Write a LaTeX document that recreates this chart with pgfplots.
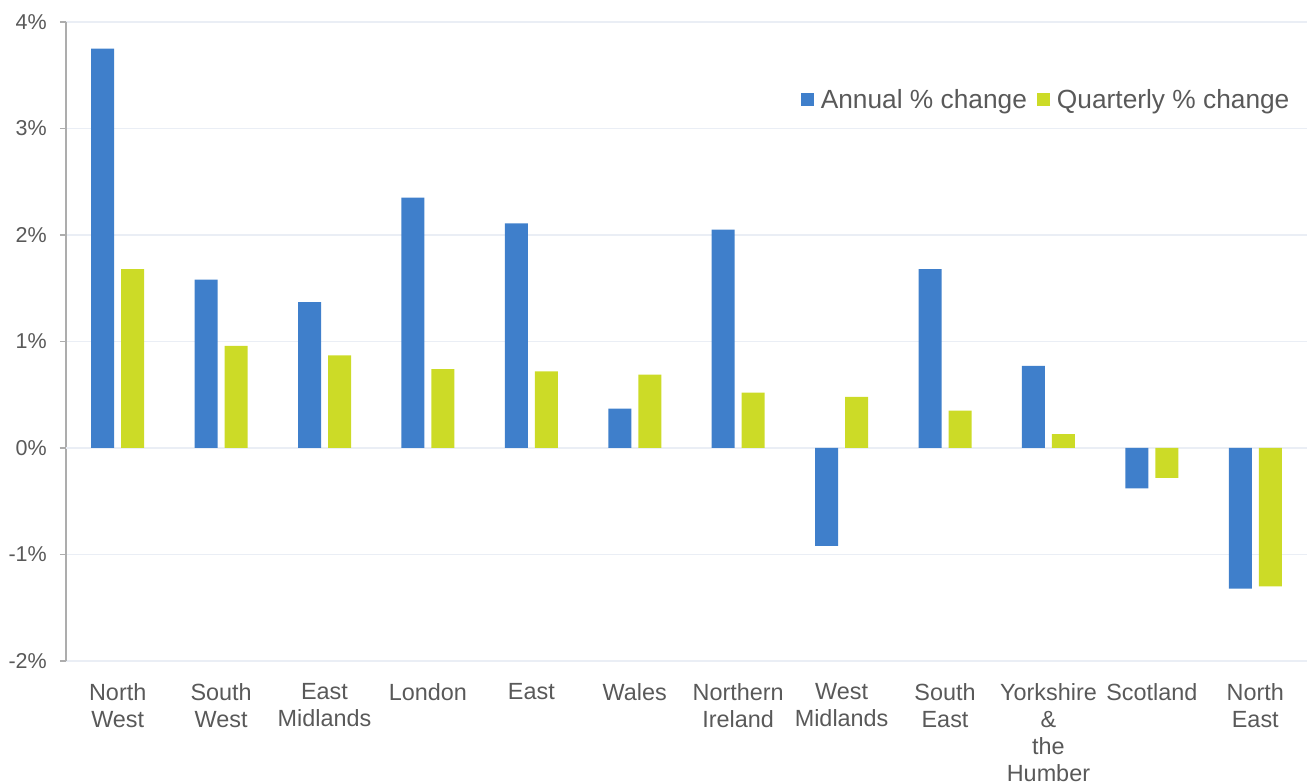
\documentclass[border=0pt]{standalone}
\usepackage{fontspec}
\setmainfont{Liberation Sans}
\usepackage{pgfplots}
\pgfplotsset{compat=1.18}
\definecolor{annual}{HTML}{3F7FCB}
\definecolor{quarterly}{HTML}{CCDB27}
\definecolor{txt}{HTML}{595959}
\definecolor{gridc}{HTML}{EAEEF5}
\definecolor{axisc}{HTML}{ADADAD}
\definecolor{zeroc}{HTML}{D9D9D9}

\begin{document}
\begin{tikzpicture}
\begin{axis}[
    scale only axis,
    width=1241pt, height=639pt,
    xmin=-0.5, xmax=11.5,
    ymin=-2, ymax=4,
    ybar=7pt, bar width=23pt,
    axis lines*=left,
    axis line style={-},
    x axis line style={draw=none},
    y axis line style={axisc, line width=1.5pt},
    xtick={0,...,11},
    xticklabels={{North\\West},{South\\West},{East\\Midlands},London,East,Wales,{Northern\\Ireland},{West\\Midlands},{South\\East},{Yorkshire\\\&\\the\\Humber},Scotland,{North\\East}},
    x tick style={draw=none},
    xticklabel style={font=\fontsize{23.4}{27}\selectfont, text=txt, align=center, anchor=north, inner sep=0pt, yshift=-16pt},
    ytick={-2,-1,0,1,2,3,4},
    yticklabels={-2\%,-1\%,0\%,1\%,2\%,3\%,4\%},
    yticklabel style={font=\fontsize{21.5}{25}\selectfont, text=txt, inner sep=0pt, xshift=-13pt},
    y tick style={axisc, line width=1.5pt},
    tick align=outside,
    major tick length=6pt,
    ymajorgrids=true,
    major grid style={gridc, line width=1.2pt},
    extra y ticks={0},
    extra y tick labels={},
    extra y tick style={grid style={zeroc, line width=2pt}},
    legend columns=2,
    legend style={draw=none, fill=none, at={(0.986,0.878)}, anchor=east,
        font=\fontsize{26.3}{30}\selectfont, text=txt, inner sep=0pt,
        nodes={inner sep=0pt},
        /tikz/every odd column/.append style={column sep=7pt},
        /tikz/every even column/.append style={column sep=10pt}},
    legend image code/.code={\fill[#1] (0pt,-6.5pt) rectangle (13pt,6.5pt);},
]
\addplot[fill=annual, draw=none] coordinates {
    (0,3.75) (1,1.58) (2,1.37) (3,2.35) (4,2.11) (5,0.37)
    (6,2.05) (7,-0.92) (8,1.68) (9,0.77) (10,-0.38) (11,-1.32)};
\addplot[fill=quarterly, draw=none] coordinates {
    (0,1.68) (1,0.96) (2,0.87) (3,0.74) (4,0.72) (5,0.69)
    (6,0.52) (7,0.48) (8,0.35) (9,0.13) (10,-0.28) (11,-1.30)};
\legend{Annual \% change, Quarterly \% change}
\end{axis}
\pgfresetboundingbox
\useasboundingbox (-66pt,-122pt) rectangle (1241pt,661pt);
\end{tikzpicture}
\end{document}
